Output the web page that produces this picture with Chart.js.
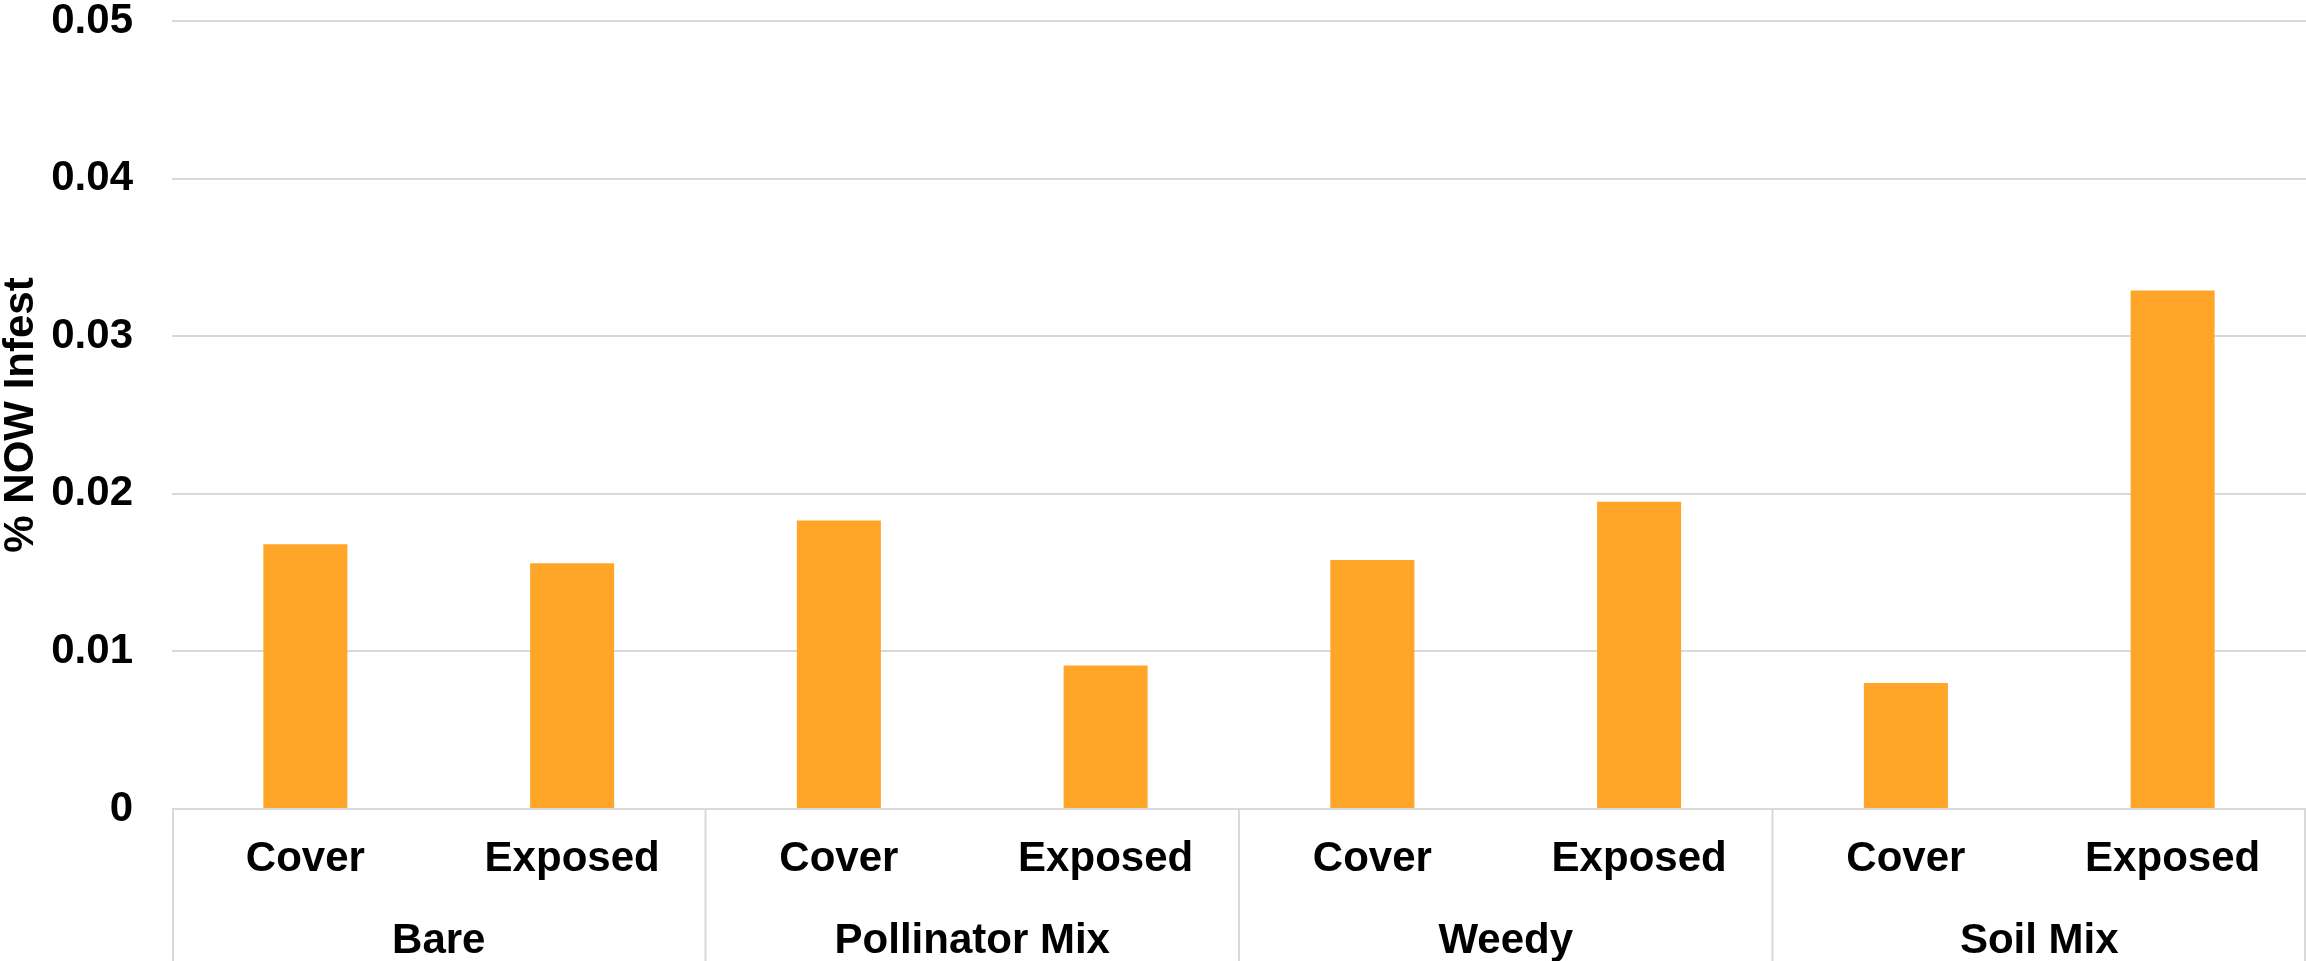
<!DOCTYPE html>
<html>
<head>
<meta charset="utf-8">
<script src="https://cdn.jsdelivr.net/npm/chart.js@4/dist/chart.umd.min.js"></script>
<style>
  html, body { margin: 0; padding: 0; background: #ffffff; }
  #wrap { width: 2306px; height: 961px; position: relative; }
</style>
</head>
<body>
<div id="wrap"><canvas id="chart"></canvas></div>
<script>
// Treatment groups and the two exposure conditions within each
const groups = ['Bare', 'Pollinator Mix', 'Weedy', 'Soil Mix'];
const conditions = ['Cover', 'Exposed'];

// % NOW infestation per group, in condition order (Cover, Exposed)
const bareValues = [0.0168, 0.0156];
const pollinatorValues = [0.0183, 0.0091];
const weedyValues = [0.0158, 0.0195];
const soilValues = [0.0080, 0.0329];

// Y axis tick values
const yTicks = [0, 0.01, 0.02, 0.03, 0.04, 0.05];

const labels = [];
groups.forEach(() => conditions.forEach(c => labels.push(c)));
const values = [].concat(bareValues, pollinatorValues, weedyValues, soilValues);

const FONT = "'Liberation Sans', Arial, sans-serif";
const GRID = '#D9D9D9';

// Draws the group row under the condition labels, with its divider lines
const groupAxis = {
  id: 'groupAxis',
  afterDraw(chart) {
    const { ctx, chartArea, scales } = chart;
    const x = scales.x;
    const per = conditions.length;
    const half = (x.getPixelForValue(1) - x.getPixelForValue(0)) / 2;
    const bottom = chart.height;
    ctx.save();
    ctx.strokeStyle = GRID;
    ctx.lineWidth = 2;
    for (let g = 0; g <= groups.length; g++) {
      let px;
      if (g < groups.length) px = x.getPixelForValue(g * per) - half;
      else px = x.getPixelForValue(g * per - 1) + half;
      px = Math.min(Math.max(px, chartArea.left + 1), chart.width - 1);
      ctx.beginPath();
      ctx.moveTo(px, chartArea.bottom);
      ctx.lineTo(px, bottom);
      ctx.stroke();
    }
    ctx.fillStyle = '#000000';
    ctx.font = 'bold 42px ' + FONT;
    ctx.textAlign = 'center';
    ctx.textBaseline = 'alphabetic';
    groups.forEach((name, g) => {
      const a = x.getPixelForValue(g * per);
      const b = x.getPixelForValue(g * per + per - 1);
      ctx.fillText(name, (a + b) / 2, 953);
    });
    ctx.restore();
  }
};

new Chart(document.getElementById('chart'), {
  type: 'bar',
  data: {
    labels: labels,
    datasets: [{
      data: values,
      backgroundColor: '#FFA629',
      borderWidth: 0,
      categoryPercentage: 1.0,
      barPercentage: 0.315
    }]
  },
  options: {
    responsive: true,
    maintainAspectRatio: false,
    animation: false,
    layout: { padding: { top: 21, right: 0, bottom: 0, left: 0 } },
    plugins: {
      legend: { display: false },
      tooltip: { enabled: false }
    },
    scales: {
      x: {
        grid: { display: false, drawTicks: false },
        border: { display: false },
        ticks: {
          color: '#000000',
          padding: 25,
          maxRotation: 0,
          autoSkip: false,
          font: { family: FONT, size: 42, weight: 'bold', lineHeight: 1.2 }
        },
        afterFit(scale) {
          scale.height = 152;
          scale.paddingLeft = 0;
          scale.paddingRight = 0;
        }
      },
      y: {
        min: 0,
        max: 0.05,
        afterBuildTicks(scale) { scale.ticks = yTicks.map(v => ({ value: v })); },
        grid: { color: GRID, lineWidth: 2, drawTicks: false },
        border: { display: false },
        ticks: {
          color: '#000000',
          padding: 39,
          font: { family: FONT, size: 42, weight: 'bold', lineHeight: 1.0 },
          callback: (v) => (v === 0 ? '0' : v.toFixed(2))
        },
        title: {
          display: true,
          text: '% NOW Infest',
          color: '#000000',
          padding: 0,
          font: { family: FONT, size: 42, weight: 'bold', lineHeight: 1.0 }
        },
        afterFit(scale) {
          scale.width = 172;
          scale.paddingTop = 0;
          scale.paddingBottom = 0;
        }
      }
    }
  },
  plugins: [groupAxis]
});
</script>
</body>
</html>
